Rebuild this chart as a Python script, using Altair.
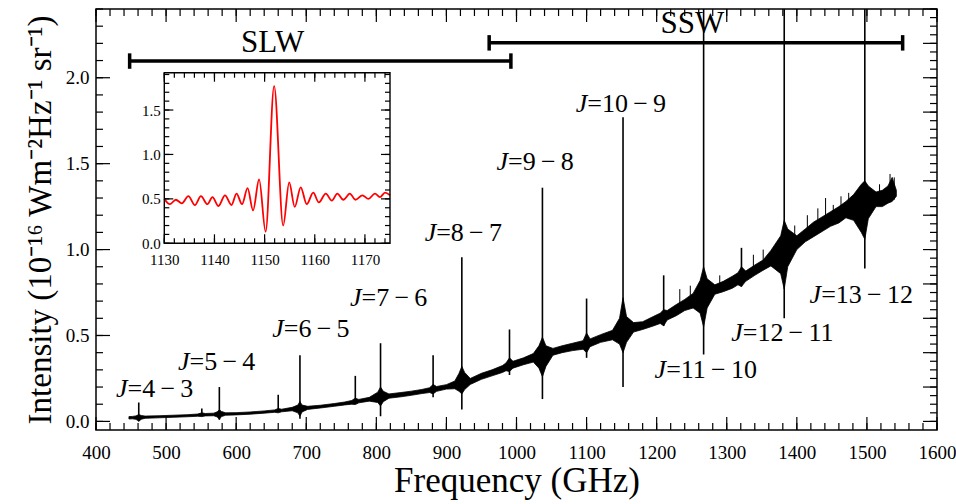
import altair as alt
import pandas as pd

# ---------------- main spectrum (continuum envelope) ----------------
env_f = [447, 452, 457, 461, 465, 470, 490, 510, 530, 545, 551, 556, 568, 573, 576, 579, 585, 600,
         620, 640, 655, 660, 665, 680, 688, 691, 694, 702, 720, 740, 755, 765, 770, 775, 790, 802,
         806, 810, 818, 835, 850, 865, 876, 881, 886, 900, 912, 918, 922, 926, 934, 950, 965, 980,
         985, 990, 995, 1010, 1024, 1032, 1037, 1042, 1052, 1065, 1080, 1095, 1100, 1105, 1120,
         1137, 1147, 1152, 1157, 1167, 1180, 1195, 1205, 1210, 1215, 1228, 1240, 1252, 1262, 1267,
         1272, 1283, 1295, 1308, 1316, 1321, 1327, 1340, 1352, 1363, 1377, 1382, 1387, 1400, 1412,
         1424, 1436, 1448, 1460, 1470, 1481, 1492, 1497, 1502, 1513, 1522, 1530, 1536, 1542]
env_lo = [0.014, 0.015, 0.012, 0.002, 0.013, 0.018, 0.021, 0.024, 0.027, 0.030, 0.028, 0.032,
          0.033, 0.026, 0.012, 0.028, 0.036, 0.038, 0.042, 0.048, 0.053, 0.050, 0.056, 0.062,
          0.050, 0.030, 0.055, 0.070, 0.078, 0.088, 0.096, 0.100, 0.098, 0.108, 0.118, 0.110,
          0.090, 0.115, 0.135, 0.143, 0.152, 0.162, 0.168, 0.160, 0.175, 0.188, 0.190, 0.175,
          0.160, 0.185, 0.215, 0.245, 0.265, 0.285, 0.295, 0.290, 0.310, 0.330, 0.345, 0.310,
          0.260, 0.320, 0.385, 0.400, 0.412, 0.420, 0.400, 0.435, 0.460, 0.475, 0.450, 0.400,
          0.460, 0.520, 0.535, 0.555, 0.570, 0.557, 0.590, 0.615, 0.645, 0.660, 0.630, 0.550,
          0.660, 0.740, 0.755, 0.775, 0.795, 0.785, 0.815, 0.850, 0.880, 0.905, 0.860, 0.770,
          0.900, 1.000, 1.045, 1.075, 1.105, 1.135, 1.155, 1.185, 1.170, 1.100, 1.060, 1.180,
          1.250, 1.250, 1.270, 1.280, 1.310]
env_hi = [0.028, 0.029, 0.032, 0.040, 0.034, 0.031, 0.033, 0.036, 0.039, 0.043, 0.050, 0.046,
          0.048, 0.056, 0.068, 0.058, 0.050, 0.051, 0.055, 0.061, 0.067, 0.075, 0.071, 0.082,
          0.095, 0.116, 0.095, 0.088, 0.094, 0.104, 0.113, 0.122, 0.135, 0.128, 0.140, 0.170,
          0.200, 0.175, 0.160, 0.168, 0.176, 0.186, 0.196, 0.215, 0.203, 0.214, 0.235, 0.280,
          0.320, 0.285, 0.250, 0.280, 0.300, 0.325, 0.340, 0.370, 0.350, 0.370, 0.395, 0.440,
          0.490, 0.440, 0.425, 0.440, 0.455, 0.470, 0.515, 0.480, 0.505, 0.530, 0.600, 0.720,
          0.610, 0.575, 0.580, 0.610, 0.630, 0.650, 0.645, 0.680, 0.710, 0.745, 0.820, 0.900,
          0.830, 0.795, 0.815, 0.845, 0.865, 0.900, 0.875, 0.910, 0.940, 0.995, 1.080, 1.170,
          1.120, 1.080, 1.120, 1.160, 1.190, 1.220, 1.250, 1.280, 1.320, 1.380, 1.400, 1.370,
          1.335, 1.345, 1.370, 1.420, 1.345]

# noise spikes in the SSW band
noise_f = [1233, 1248, 1290, 1338, 1352, 1397, 1415, 1430, 1441, 1452, 1463, 1474, 1518, 1533, 1539]
noise_lo = [0.66, 0.68, 0.76, 0.86, 0.88, 0.99, 1.06, 1.10, 1.12, 1.15, 1.17, 1.18, 1.26, 1.28, 1.29]
noise_hi = [0.77, 0.79, 0.85, 0.97, 1.00, 1.14, 1.20, 1.24, 1.30, 1.26, 1.31, 1.33, 1.38, 1.44, 1.42]

# ---------------- spectral lines: centre, lowest dip, highest peak ----------------
line_f = [461, 551, 576, 660, 691, 770, 806, 881, 922, 990, 1037, 1100, 1152, 1210, 1267, 1321, 1382, 1497]
line_dip = [0.0, 0.03, 0.01, 0.06, 0.015, 0.11, 0.03, 0.14, 0.07, 0.27, 0.13, 0.37, 0.20, 0.555,
            0.39, 0.785, 0.60, 0.89]
line_peak = [0.11, 0.075, 0.20, 0.155, 0.385, 0.265, 0.455, 0.385, 0.955, 0.535, 1.36, 0.715, 1.77,
             0.85, 2.6, 1.01, 2.6, 2.6]

# ---------------- line labels ----------------
S = "\u2009\u2212\u2009"
lab_f = [445, 533.5, 668, 779, 885.4, 988, 1101, 1213.5, 1322.8, 1434.7]
lab_v = [0.19, 0.347, 0.54, 0.72, 1.097, 1.51, 1.847, 0.30, 0.514, 0.737]
lab_txt = ["=4" + S + "3", "=5" + S + "4", "=6" + S + "5", "=7" + S + "6", "=8" + S + "7",
           "=9" + S + "8", "=10" + S + "9", "=11" + S + "10", "=12" + S + "11", "=13" + S + "12"]

# ---------------- SPIRE bands ----------------
band_name = ["SLW", "SSW"]
band_lo = [448, 961]
band_hi = [992, 1551]
band_y = [2.097, 2.203]
band_txt_f = [652, 1251]
band_txt_v = [2.205, 2.31]

# ---------------- inset: CO J=10-9 line profile ----------------
ins_f = [1130, 1131.1, 1132.3, 1133.5, 1134.8, 1136.1, 1137.3, 1138.6, 1139.6, 1140.8, 1142.1,
         1143.4, 1144.4, 1145.5, 1146.6, 1147.7, 1148.9, 1150.2, 1151.9, 1153.7, 1154.9, 1156.0,
         1157.2, 1158.4, 1159.7, 1160.8, 1162.2, 1163.4, 1164.5, 1165.7, 1167.0, 1168.1, 1169.5,
         1170.7, 1172.0, 1173.0, 1174.0, 1175.0]
ins_v = [0.50, 0.44, 0.49, 0.45, 0.53, 0.43, 0.53, 0.44, 0.52, 0.42, 0.54, 0.43, 0.56, 0.44, 0.62,
         0.37, 0.72, 0.13, 1.77, 0.20, 0.685, 0.41, 0.63, 0.44, 0.57, 0.46, 0.56, 0.48, 0.56, 0.49,
         0.56, 0.49, 0.54, 0.50, 0.56, 0.52, 0.57, 0.54]

# ---------------- tick values ----------------
x_major = list(range(400, 1601, 100))
x_minor = list(range(400, 1601, 20))
y_major = [0.0, 0.5, 1.0, 1.5, 2.0]
y_minor = [round(0.1 * i, 2) for i in range(25)]
yr_major = [round(0.2 * i, 2) for i in range(13)]
yr_minor = [round(0.05 * i, 2) for i in range(49)]
ix_major = list(range(1130, 1171, 10))
ix_minor = list(range(1130, 1176, 2))
iy_major = [0.0, 0.5, 1.0, 1.5]
iy_minor = [round(0.1 * i, 2) for i in range(20)]

FONT = "Liberation Serif"
W, H = 841, 421
X0, X1, Y0, Y1 = 400, 1600, -0.05, 2.4
IXD0, IXD1, IYD0, IYD1 = 1130, 1175, 0.0, 1.92

df_env = pd.DataFrame({"f": env_f, "lo": env_lo, "hi": env_hi})
df_noise = pd.DataFrame({"f": noise_f, "lo": noise_lo, "hi": noise_hi})
df_lines = pd.DataFrame({"f": line_f, "dip": line_dip, "peak": line_peak})
df_lab = pd.DataFrame({"f": lab_f, "v": lab_v, "t": lab_txt})
df_band = pd.DataFrame({"name": band_name, "lo": band_lo, "hi": band_hi, "y": band_y,
                        "tf": band_txt_f, "tv": band_txt_v})
df_ins = pd.DataFrame({"f": ins_f, "v": ins_v})

mx = alt.Scale(domain=[X0, X1], nice=False, zero=False)
my = alt.Scale(domain=[Y0, Y1], nice=False, zero=False)

x_lab_axis = alt.Axis(orient="bottom", values=x_major, format="d", ticks=False, domain=False,
                      grid=False, labelFont=FONT, labelFontSize=19, labelPadding=13,
                      labelFlush=False, labelColor="black", title="Frequency (GHz)",
                      titleFont=FONT, titleFontSize=35, titleFontWeight="normal",
                      titleColor="black", titlePadding=1)
y_lab_axis = alt.Axis(orient="left", values=y_major, format=".1f", ticks=False, domain=False,
                      grid=False, labelFont=FONT, labelFontSize=19, labelPadding=7,
                      labelColor="black",
                      title="Intensity (10\u207b\u00b9\u2076 Wm\u207b\u00b2Hz\u207b\u00b9 sr\u207b\u00b9)",
                      titleFont=FONT, titleFontSize=33, titleFontWeight="normal",
                      titleColor="black", titlePadding=8)


def xticks(values, size, sx, sy, ydatum, sign):
    # ticks along a horizontal edge, pointing into the plot
    return alt.Chart(pd.DataFrame({"v": values})).mark_tick(
        orient="vertical", size=size, thickness=1.2, color="black", opacity=1,
        yOffset=sign * size / 2).encode(
        x=alt.X("v:Q", scale=sx, axis=None),
        y=alt.YDatum(ydatum, scale=sy, axis=None))


def yticks(values, size, sx, sy, xdatum, sign):
    return alt.Chart(pd.DataFrame({"v": values})).mark_tick(
        orient="horizontal", size=size, thickness=1.2, color="black", opacity=1,
        xOffset=sign * size / 2).encode(
        y=alt.Y("v:Q", scale=sy, axis=None),
        x=alt.XDatum(xdatum, scale=sx, axis=None))


spectrum = alt.Chart(df_env).mark_area(color="black", stroke="black", strokeWidth=0.8).encode(
    x=alt.X("f:Q", scale=mx, axis=x_lab_axis),
    y=alt.Y("lo:Q", scale=my, axis=y_lab_axis),
    y2="hi:Q")

noise = alt.Chart(df_noise).mark_rule(color="black", strokeWidth=1.0).encode(
    x=alt.X("f:Q", scale=mx, axis=None), y=alt.Y("lo:Q", scale=my, axis=None), y2="hi:Q")

spikes = alt.Chart(df_lines).mark_rule(color="black", strokeWidth=1.6, clip=True).encode(
    x=alt.X("f:Q", scale=mx, axis=None), y=alt.Y("dip:Q", scale=my, axis=None), y2="peak:Q")

bars = alt.Chart(df_band).mark_rule(color="black", strokeWidth=3.5).encode(
    x=alt.X("lo:Q", scale=mx, axis=None), x2="hi:Q", y=alt.Y("y:Q", scale=my, axis=None))
cap_lo = alt.Chart(df_band).transform_calculate(a="datum.y - 0.045", b="datum.y + 0.045").mark_rule(
    color="black", strokeWidth=3.5).encode(
    x=alt.X("lo:Q", scale=mx, axis=None), y=alt.Y("a:Q", scale=my, axis=None), y2="b:Q")
cap_hi = alt.Chart(df_band).transform_calculate(a="datum.y - 0.045", b="datum.y + 0.045").mark_rule(
    color="black", strokeWidth=3.5).encode(
    x=alt.X("hi:Q", scale=mx, axis=None), y=alt.Y("a:Q", scale=my, axis=None), y2="b:Q")
band_text = alt.Chart(df_band).mark_text(font=FONT, fontSize=31, color="black",
                                         baseline="middle", align="center").encode(
    x=alt.X("tf:Q", scale=mx, axis=None), y=alt.Y("tv:Q", scale=my, axis=None), text="name:N")

lab_j = alt.Chart(df_lab).mark_text(font=FONT, fontSize=26, fontStyle="italic", color="black",
                                    baseline="middle", align="right", text="J").encode(
    x=alt.X("f:Q", scale=mx, axis=None), y=alt.Y("v:Q", scale=my, axis=None))
lab_rest = alt.Chart(df_lab).mark_text(font=FONT, fontSize=26, color="black",
                                       baseline="middle", align="left").encode(
    x=alt.X("f:Q", scale=mx, axis=None), y=alt.Y("v:Q", scale=my, axis=None), text="t:N")

main = alt.layer(
    spectrum, noise, spikes, bars, cap_lo, cap_hi, band_text, lab_j, lab_rest,
    xticks(x_major, 13, mx, my, Y0, -1),
    xticks(x_minor, 7, mx, my, Y0, -1),
    xticks(x_major, 13, mx, my, Y1, 1),
    xticks(x_minor, 7, mx, my, Y1, 1),
    yticks(y_major, 14, mx, my, X0, 1),
    yticks(y_minor, 7, mx, my, X0, 1),
    yticks(yr_major, 14, mx, my, X1, -1),
    yticks(yr_minor, 7, mx, my, X1, -1),
).resolve_axis(x="independent", y="independent")

# ---------------- inset ----------------
IX0, IX1 = 68.3, 294.0     # inset frame inside the plot area (pixels)
IY0, IY1 = 234.3, 63.7
ix = alt.Scale(domain=[IXD0, IXD1], range=[IX0, IX1], nice=False, zero=False)
iy = alt.Scale(domain=[IYD0, IYD1], range=[IY0, IY1], nice=False, zero=False)

ins_xlab = alt.Axis(orient="bottom", offset=IY0 - H, values=ix_major, format="d", ticks=False,
                    domain=False, grid=False, labelFont=FONT, labelFontSize=15, labelPadding=9,
                    labelFlush=False, labelColor="black", title=None)
ins_ylab = alt.Axis(orient="left", offset=-IX0, values=iy_major, format=".1f", ticks=False,
                    domain=False, grid=False, labelFont=FONT, labelFontSize=15, labelPadding=4,
                    labelColor="black", title=None)

ins_frame = alt.Chart(pd.DataFrame({"k": [0]})).mark_rect(
    fillOpacity=0, stroke="black", strokeWidth=1.4).encode(
    x=alt.XDatum(IXD0, scale=ix, axis=None), x2=alt.datum(IXD1),
    y=alt.YDatum(IYD0, scale=iy, axis=None), y2=alt.datum(IYD1))

ins_line = alt.Chart(df_ins).mark_line(color="red", strokeWidth=1.8, interpolate="monotone").encode(
    x=alt.X("f:Q", scale=ix, axis=ins_xlab), y=alt.Y("v:Q", scale=iy, axis=ins_ylab))

inset = alt.layer(
    ins_line, ins_frame,
    xticks(ix_major, 9, ix, iy, IYD0, -1),
    xticks(ix_minor, 5, ix, iy, IYD0, -1),
    xticks(ix_major, 9, ix, iy, IYD1, 1),
    xticks(ix_minor, 5, ix, iy, IYD1, 1),
    yticks(iy_major, 9, ix, iy, IXD0, 1),
    yticks(iy_minor, 5, ix, iy, IXD0, 1),
    yticks(iy_major, 9, ix, iy, IXD1, -1),
    yticks(iy_minor, 5, ix, iy, IXD1, -1),
).resolve_axis(x="independent", y="independent")

chart = alt.layer(main, inset).resolve_scale(x="independent", y="independent").properties(
    width=W, height=H,
    padding={"left": 96, "top": 9, "right": 19, "bottom": 74},
    autosize=alt.AutoSizeParams(type="none"),
    background="white",
).configure_view(stroke="black", strokeWidth=1.5)

chart.save("out.html", embed_options={"renderer": "svg", "actions": False})
